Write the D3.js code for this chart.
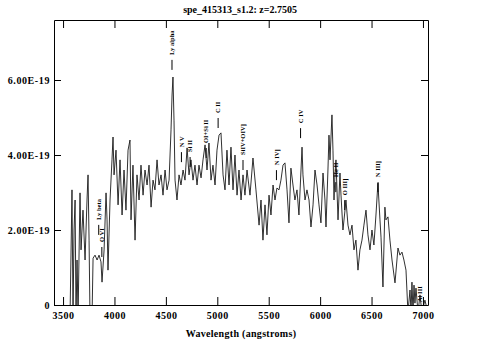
<!DOCTYPE html>
<html><head><meta charset="utf-8">
<script src="https://cdn.jsdelivr.net/npm/d3@7"></script>
<style>
html,body{margin:0;padding:0;background:#fff;}
svg{display:block;}
text{font-family:"Liberation Serif","DejaVu Serif",serif;font-weight:bold;fill:#000;}
</style></head>
<body>
<script>
// ---- data ----
const chartTitle = "spe_415313_s1.2: z=2.7505";
const redshift = 2.7505;
const xLabel = "Wavelength (angstroms)";
const xTicks = [3500,4000,4500,5000,5500,6000,6500,7000];
const yTicks = [0, 2e-19, 4e-19, 6e-19];
const yTickLabels = ["0","2.00E-19","4.00E-19","6.00E-19"];
// observed wavelength (angstroms)
const wavelength = [3568,3587,3597,3607,3617,3626,3636,3646,3665,3675,3694,3714,3733,3743,3753,3762,3782,3792,3811,3831,
3850,3869,3879,3899,3918,3928,3937,3957,3976,3986,3996,4015,4035,4054,4074,4093,4112,4132,4151,4161,
4180,4200,4219,4239,4258,4278,4297,4317,4336,4356,4375,4394,4414,4433,4453,4472,4492,4511,4531,4550,
4560,4569,4579,4589,4608,4628,4647,4667,4686,4706,4725,4744,4764,4783,4803,4822,4842,4861,4881,4900,
4919,4939,4958,4978,4997,5017,5036,5056,5075,5094,5114,5133,5153,5172,5192,5211,5231,5250,5269,5289,
5318,5347,5376,5406,5425,5444,5464,5483,5503,5522,5542,5561,5580,5600,5619,5639,5658,5678,5697,5716,
5736,5755,5775,5794,5814,5824,5833,5853,5872,5892,5911,5931,5950,5970,5989,6008,6028,6047,6057,6076,
6086,6096,6115,6125,6135,6144,6154,6174,6193,6203,6222,6242,6251,6271,6290,6310,6329,6348,6368,6387,
6407,6426,6446,6465,6485,6504,6523,6543,6562,6582,6592,6611,6630,6640,6660,6679,6699,6728,6747,6757,
6776,6796,6815,6835,6854,6874,6884,6893,6903,6913,6922,6932,6952,6971,6990,7019,7039];
// flux in units of 1e-19 erg/s/cm2/A
const flux = [-0.3,3.07,-0.3,2.0,2.8,-0.3,1.2,-0.3,2.99,1.47,2.53,1.2,2.8,3.47,1.73,-0.3,-0.3,1.25,1.33,1.2,
1.33,1.15,0.61,1.47,2.99,2.27,0.93,2.8,3.87,4.48,3.47,4.13,2.67,3.87,2.4,3.6,2.53,4.13,4.4,2.27,
3.73,1.73,3.47,2.8,3.73,2.93,3.6,3.2,3.73,2.61,3.33,3.07,3.87,3.2,3.47,2.93,3.6,3.07,3.33,4.67,
5.6,6.08,4.93,3.33,2.8,3.47,3.2,3.6,3.33,4.19,3.47,3.87,3.33,3.73,3.2,3.73,3.39,3.87,4.27,3.6,
4.32,3.33,3.73,3.2,4.13,4.53,4.59,3.47,3.07,4.13,3.2,4.21,3.07,4.0,2.93,3.6,2.8,3.47,2.93,3.6,
2.93,3.92,3.07,2.13,2.8,1.73,2.67,1.87,2.93,2.4,3.2,2.8,3.12,3.07,3.33,3.73,3.79,3.07,2.19,3.65,
3.2,2.8,3.07,2.4,3.6,4.21,3.47,2.8,3.07,2.8,2.08,2.67,3.6,3.2,2.67,2.19,3.52,2.8,2.08,3.6,
4.53,3.87,5.07,4.13,2.8,3.47,3.87,2.27,3.52,2.93,2.0,2.53,2.8,2.13,1.87,2.13,1.47,1.73,0.93,1.47,
1.73,2.13,2.53,1.87,1.47,2.0,1.6,2.4,3.25,2.27,1.81,0.48,2.61,2.27,2.35,1.73,1.2,0.59,1.2,1.52,
1.33,1.41,1.2,0.93,-0.2,0.4,-0.2,0.61,-0.2,0.53,0.05,0.45,-0.2,0.27,-0.2,0.13,-0.1];
// emission line identifications
const lineNames = ["Ly beta","O VI","Ly alpha","N V","Si II","OI+Si II","C II","SiIV+OIV]","N IV]","C IV","He II","O III]","N III]","Al III"];
const lineRest = [1025.72,1033.82,1215.67,1240.14,1262.59,1304.35,1335.30,1399.80,1486.50,1549.06,1640.42,1663.48,1750.00,1857.40];
// flux level (1e-19) at the foot of each label marker
const lineLevel = [1.87,1.28,6.27,3.81,3.68,3.92,4.72,3.60,3.33,4.45,3.01,2.53,3.01,-0.32];

// ---- drawing ----
const W = 483, H = 358;
const m = {l:54, r:483-428, t:20, b:358-305};
const svg = d3.select("body").append("svg").attr("width",W).attr("height",H);

const x = d3.scaleLinear().domain([3412, 7049]).range([m.l, W-m.r]);
const y = d3.scaleLinear().domain([0, 7.6e-19]).range([H-m.b, m.t]);

svg.append("defs").append("clipPath").attr("id","plotclip")
  .append("rect").attr("x",m.l).attr("y",m.t).attr("width",W-m.l-m.r).attr("height",H-m.t-m.b);

const pts = wavelength.map((w,i)=>[w, flux[i]*1e-19]);
svg.append("path").datum(pts)
  .attr("clip-path","url(#plotclip)")
  .attr("fill","none").attr("stroke","#1a1a1a").attr("stroke-width",0.9)
  .attr("d", d3.line().x(d=>x(d[0])).y(d=>y(d[1])));

// line labels
const lg = svg.append("g").attr("clip-path","url(#plotclip)");
lineNames.forEach((name,i)=>{
  const lx = x(lineRest[i]*(1+redshift));
  const ly = y(lineLevel[i]*1e-19);
  lg.append("line").attr("x1",lx).attr("x2",lx).attr("y1",ly).attr("y2",ly-10)
    .attr("stroke","#000").attr("stroke-width",1);
  lg.append("text").attr("transform",`translate(${lx+2.2},${ly-15}) rotate(-90)`)
    .attr("font-size",6.5).attr("text-anchor","start").text(name);
});

// axes
const axStyle = g=>{
  g.selectAll(".domain").attr("stroke","#000").attr("stroke-width",1);
  g.selectAll(".tick line").attr("stroke","#000").attr("stroke-width",1);
};
svg.append("g").attr("transform",`translate(0,${H-m.b})`)
  .call(d3.axisBottom(x).tickValues(xTicks).tickFormat(d3.format("d")).tickSize(-8).tickSizeOuter(0).tickPadding(7))
  .call(axStyle)
  .call(g=>g.selectAll("text").attr("font-size",10).attr("letter-spacing",0.5).attr("font-family",null));
svg.append("g").attr("transform",`translate(0,${m.t})`)
  .call(d3.axisTop(x).tickValues(xTicks).tickFormat("").tickSize(-8).tickSizeOuter(0))
  .call(axStyle);
svg.append("g").attr("transform",`translate(${m.l},0)`)
  .call(d3.axisLeft(y).tickValues(yTicks).tickFormat((d,i)=>yTickLabels[i]).tickSize(-7).tickSizeOuter(0).tickPadding(4))
  .call(axStyle)
  .call(g=>g.selectAll("text").attr("font-size",10).attr("letter-spacing",0.6).attr("font-family",null));
svg.append("g").attr("transform",`translate(${W-m.r},0)`)
  .call(d3.axisRight(y).tickValues(yTicks).tickFormat("").tickSize(-7).tickSizeOuter(0))
  .call(axStyle);

// title and axis label
svg.append("text").attr("x",240).attr("y",13).attr("text-anchor","middle")
  .attr("font-size",10).text(chartTitle);
svg.append("text").attr("x",241).attr("y",337).attr("text-anchor","middle")
  .attr("font-size",10).attr("letter-spacing",0.3).text(xLabel);
</script>
</body></html>
